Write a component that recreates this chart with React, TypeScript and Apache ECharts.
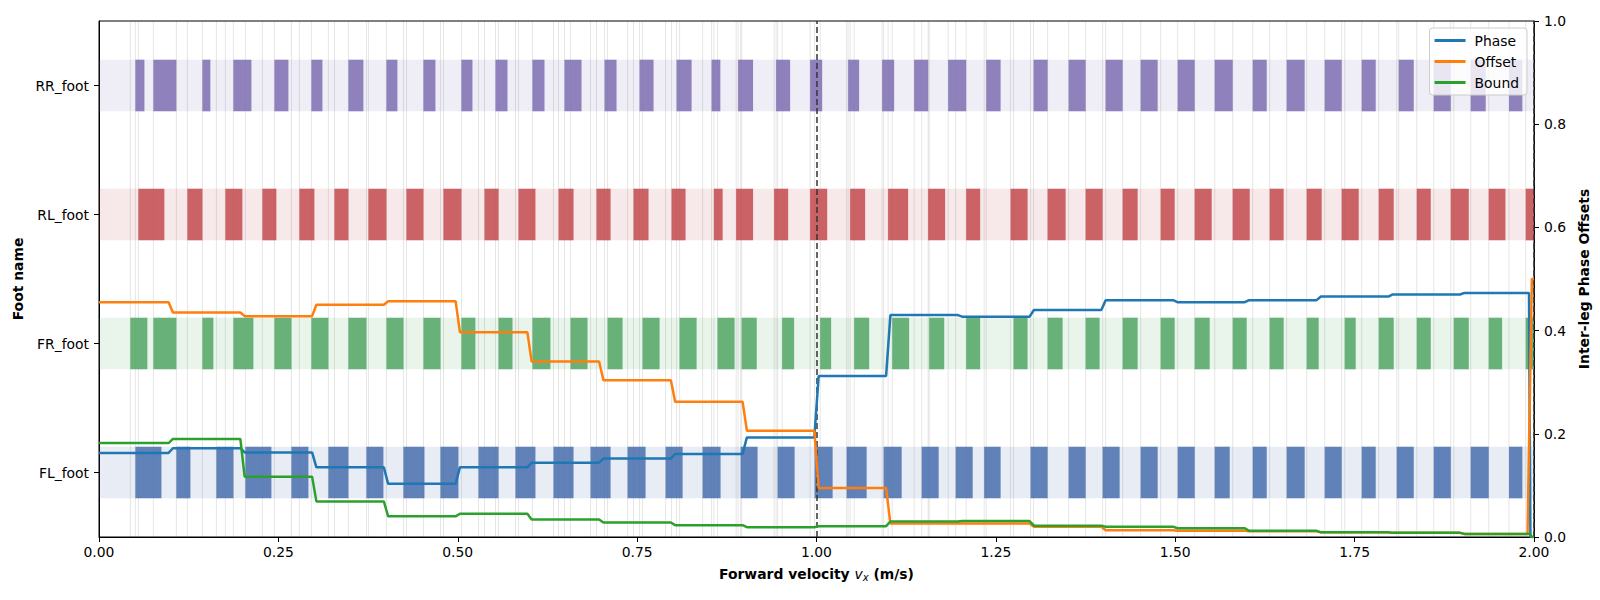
import React, { useEffect, useRef } from "react";
import * as echarts from "echarts";

// ---------- data ----------
const FEET = ["FL_foot", "FR_foot", "RL_foot", "RR_foot"];
const X_MIN = 0;
const X_MAX = 2;

// stance intervals [start, end] in forward-velocity units
const FL_STANCE: number[][] = [
  [0.0507, 0.087], [0.1078, 0.1274], [0.1636, 0.1873], [0.204, 0.2403], [0.2682, 0.2919],
  [0.3197, 0.3476], [0.3727, 0.3964], [0.4243, 0.4536], [0.4759, 0.501], [0.5289, 0.5568],
  [0.5805, 0.6083], [0.6335, 0.6614], [0.6851, 0.713], [0.7367, 0.7618], [0.7897, 0.8134],
  [0.8413, 0.8663], [0.8943, 0.9179], [0.9458, 0.9695], [0.9974, 1.0225], [1.042, 1.0699],
  [1.0936, 1.1187], [1.1466, 1.1703], [1.194, 1.2177], [1.2337, 1.2566], [1.2984, 1.3221],
  [1.3514, 1.3751], [1.3988, 1.4225], [1.4518, 1.4755], [1.5034, 1.5271], [1.555, 1.5759],
  [1.608, 1.6275], [1.6553, 1.6804], [1.7083, 1.732], [1.7599, 1.7794], [1.8087, 1.8324],
  [1.8603, 1.884], [1.9118, 1.9369], [1.9652, 1.9838],
];
const FR_STANCE: number[][] = [
  [0.0437, 0.0674], [0.0758, 0.1078], [0.1441, 0.1594], [0.1873, 0.2152], [0.2445, 0.2682],
  [0.296, 0.3197], [0.3476, 0.3727], [0.4006, 0.4243], [0.4522, 0.4759], [0.5051, 0.5246],
  [0.5568, 0.5763], [0.6041, 0.6292], [0.6572, 0.6809], [0.7088, 0.7297], [0.7576, 0.7813],
  [0.8092, 0.8329], [0.8621, 0.8858], [0.8957, 0.9167], [0.9521, 0.9688], [1.0051, 1.0204],
  [1.0525, 1.0734], [1.1055, 1.1291], [1.1571, 1.178], [1.2086, 1.2281], [1.2747, 1.2942],
  [1.3221, 1.343], [1.3751, 1.3946], [1.4267, 1.4476], [1.4797, 1.4992], [1.5271, 1.548],
  [1.5801, 1.5996], [1.6316, 1.6511], [1.6832, 1.6999], [1.7362, 1.7515], [1.7836, 1.8045],
  [1.8366, 1.8561], [1.8882, 1.9091], [1.9369, 1.9555], [1.9885, 2.0],
];
const RL_STANCE: number[][] = [
  [0.0549, 0.0911], [0.1232, 0.1441], [0.1761, 0.1998], [0.2277, 0.2472], [0.2793, 0.3002],
  [0.3281, 0.3476], [0.3755, 0.4006], [0.4285, 0.4522], [0.4801, 0.5051], [0.5373, 0.5568],
  [0.5847, 0.6083], [0.6405, 0.6614], [0.6934, 0.713], [0.745, 0.7659], [0.798, 0.8175],
  [0.857, 0.8692], [0.888, 0.9116], [0.9409, 0.9605], [0.9911, 1.0149], [1.0469, 1.0678],
  [1.0998, 1.1277], [1.1556, 1.1793], [1.2086, 1.2281], [1.2705, 1.2942], [1.3221, 1.3472],
  [1.3751, 1.3988], [1.4267, 1.4476], [1.4797, 1.4992], [1.5271, 1.5508], [1.5801, 1.6038],
  [1.6316, 1.6511], [1.6832, 1.7041], [1.732, 1.7557], [1.7836, 1.8045], [1.8366, 1.8561],
  [1.884, 1.9091], [1.9369, 1.9602], [1.9885, 2.0],
];
const RR_STANCE: number[][] = [
  [0.0507, 0.0633], [0.0758, 0.1078], [0.1441, 0.1552], [0.1873, 0.2124], [0.2445, 0.264],
  [0.296, 0.3114], [0.3476, 0.3685], [0.4006, 0.4159], [0.4522, 0.4689], [0.5051, 0.5205],
  [0.5526, 0.5693], [0.6041, 0.6209], [0.6488, 0.6725], [0.7046, 0.7213], [0.7534, 0.7729],
  [0.805, 0.8259], [0.8538, 0.866], [0.8907, 0.9116], [0.9437, 0.9632], [0.9911, 1.0079],
  [1.0441, 1.0594], [1.0915, 1.1082], [1.1361, 1.1557], [1.1835, 1.2086], [1.2365, 1.2566],
  [1.3026, 1.3221], [1.3514, 1.3751], [1.403, 1.4267], [1.4518, 1.4755], [1.5034, 1.5271],
  [1.555, 1.5801], [1.608, 1.6275], [1.6553, 1.6804], [1.7083, 1.732], [1.7599, 1.7794],
  [1.8115, 1.8324], [1.8603, 1.884], [1.9118, 1.9327], [1.9652, 1.9838],
];

// velocity bins (edges) and per-bin inter-leg offsets
const BIN_EDGES = [0, 0.1, 0.2, 0.3, 0.4, 0.5, 0.6, 0.7, 0.8, 0.9, 1.0, 1.1, 1.2, 1.3, 1.4, 1.5, 1.6, 1.7, 1.8, 1.9, 2.0];
const PHASE = [0.163, 0.172, 0.164, 0.135, 0.103, 0.135, 0.144, 0.152, 0.161, 0.193, 0.312, 0.43, 0.427, 0.44, 0.459, 0.455, 0.459, 0.466, 0.47, 0.473];
const OFFSET = [0.455, 0.435, 0.428, 0.45, 0.457, 0.397, 0.34, 0.304, 0.262, 0.206, 0.095, 0.026, 0.026, 0.02, 0.013, 0.012, 0.011, 0.009, 0.008, 0.006];
const BOUND = [0.182, 0.19, 0.117, 0.069, 0.04, 0.045, 0.034, 0.028, 0.023, 0.019, 0.021, 0.03, 0.031, 0.022, 0.02, 0.017, 0.012, 0.009, 0.008, 0.006];
// final samples at the end of the sweep
const PHASE_TAIL = [[1.993, 0.473], [1.995, 0], [2.0, 0]];
const OFFSET_TAIL = [[1.991, 0.006], [1.997, 0.5], [2.0, 0.5]];
const BOUND_TAIL = [[1.994, 0.006], [1.997, 0], [2.0, 0]];

const TRANSITIONS = [1.0, 1.997];

// ---------- styling ----------
const FONT = "DejaVu Sans";
const FS = 13.9;
const FOOT_COLORS: Record<string, string> = {
  FL_foot: "#4c72b0",
  FR_foot: "#55a868",
  RL_foot: "#c44e52",
  RR_foot: "#8172b3",
};
const LINE_COLORS = { Phase: "#1f77b4", Offset: "#ff7f0e", Bound: "#2ca02c" };
const RAMP = 0.003;

function buildSteps(levels: number[], tail: number[][]) {
  const pts: number[][] = [];
  levels.forEach((v, k) => {
    const a = BIN_EDGES[k];
    const b = BIN_EDGES[k + 1];
    pts.push([k === 0 ? a : a + RAMP, v]);
    if (k < levels.length - 1) pts.push([b - RAMP, v]);
  });
  return pts.concat(tail);
}

export default function App() {
  const ref = useRef<HTMLDivElement>(null);

  useEffect(() => {
    if (!ref.current) return;
    const chart = echarts.init(ref.current, undefined, { renderer: "svg" });

    const stanceSets = [FL_STANCE, FR_STANCE, RL_STANCE, RR_STANCE];
    const stanceData: number[][] = [];
    stanceSets.forEach((set, i) => set.forEach(([s, e]) => stanceData.push([s, e, i])));
    const bandData = FEET.map((_, i) => [X_MIN, X_MAX, i]);
    const touchdowns = Array.from(new Set(stanceData.map((d) => d[0]))).sort((a, b) => a - b);

    const rectRender = (alpha: number) => (params: any, api: any) => {
      const idx = api.value(2);
      const s = api.coord([api.value(0), idx]);
      const e = api.coord([api.value(1), idx]);
      const h = api.size([0, 1])[1] * 0.4;
      return {
        type: "rect",
        shape: { x: s[0], y: s[1] - h / 2, width: e[0] - s[0], height: h },
        style: { fill: FOOT_COLORS[FEET[idx]], opacity: alpha },
      };
    };

    const axisLineStyle = { show: true, lineStyle: { color: "#000", width: 1 } };
    const tickStyle = { show: true, length: 5, lineStyle: { color: "#000", width: 1 } };
    const labelStyle = { color: "#000", fontSize: FS, fontFamily: FONT };
    const titleStyle = { color: "#000", fontSize: FS, fontFamily: FONT, fontWeight: "bold" as const };

    const lineSeries = (name: "Phase" | "Offset" | "Bound", data: number[][], extra: any = {}) => ({
      name,
      type: "line",
      xAxisIndex: 0,
      yAxisIndex: 1,
      data,
      showSymbol: false,
      symbol: "none",
      color: LINE_COLORS[name],
      lineStyle: { color: LINE_COLORS[name], width: 2.5 },
      z: 5,
      ...extra,
    });

    chart.setOption({
      animation: false,
      backgroundColor: "#fff",
      grid: {
        left: 99,
        right: 66,
        top: 21,
        bottom: 63,
        show: true,
        borderColor: "#000",
        borderWidth: 1,
        backgroundColor: "transparent",
      },
      legend: {
        data: ["Phase", "Offset", "Bound"],
        orient: "vertical",
        right: 73,
        top: 28,
        icon: "rect",
        itemWidth: 31,
        itemHeight: 3,
        itemGap: 6,
        padding: [5, 8, 5, 5],
        backgroundColor: "rgba(255,255,255,0.8)",
        borderColor: "#cccccc",
        borderWidth: 1,
        borderRadius: 3,
        z: 10,
        textStyle: { color: "#000", fontSize: FS, fontFamily: FONT, lineHeight: 15, padding: [0, 0, 0, 4] },
      },
      xAxis: {
        type: "value",
        min: X_MIN,
        max: X_MAX,
        interval: 0.25,
        name: "{b|Forward velocity }{i|v}{s|x}{b| (m/s)}",
        nameLocation: "middle",
        nameGap: 29,
        nameTextStyle: {
          rich: {
            b: { ...titleStyle },
            i: { color: "#000", fontSize: FS, fontFamily: FONT, fontStyle: "italic" },
            s: { color: "#000", fontSize: 10, fontFamily: FONT, fontStyle: "italic", padding: [6, 0, 0, 0] },
          },
        },
        axisLine: axisLineStyle,
        axisTick: tickStyle,
        axisLabel: { ...labelStyle, margin: 8, formatter: (v: number) => v.toFixed(2) },
        splitLine: { show: false },
      },
      yAxis: [
        {
          type: "category",
          data: FEET,
          position: "left",
          name: "Foot name",
          nameLocation: "middle",
          nameRotate: 90,
          nameGap: 69,
          nameTextStyle: titleStyle,
          axisLine: axisLineStyle,
          axisTick: { ...tickStyle, alignWithLabel: true },
          axisLabel: { ...labelStyle, margin: 10 },
          splitLine: { show: false },
        },
        {
          type: "value",
          position: "right",
          min: 0,
          max: 1,
          interval: 0.2,
          name: "Inter-leg Phase Offsets",
          nameLocation: "middle",
          nameRotate: 90,
          nameGap: 33,
          nameTextStyle: titleStyle,
          axisLine: axisLineStyle,
          axisTick: tickStyle,
          axisLabel: { ...labelStyle, margin: 10, formatter: (v: number) => v.toFixed(1) },
          splitLine: { show: false },
        },
      ],
      series: [
        {
          type: "custom",
          name: "bands",
          xAxisIndex: 0,
          yAxisIndex: 0,
          data: bandData,
          encode: { x: [0, 1], y: 2 },
          renderItem: rectRender(0.13),
          silent: true,
          z: 1,
        },
        {
          type: "custom",
          name: "touchdowns",
          xAxisIndex: 0,
          yAxisIndex: 0,
          data: touchdowns.map((t) => [t, 0]),
          encode: { x: 0, y: 1 },
          renderItem: (params: any, api: any) => {
            const cs = params.coordSys;
            const x = api.coord([api.value(0), 0])[0];
            return {
              type: "line",
              shape: { x1: x, y1: cs.y, x2: x, y2: cs.y + cs.height },
              style: { stroke: "#000", opacity: 0.1, lineWidth: 1 },
            };
          },
          silent: true,
          z: 2,
        },
        {
          type: "custom",
          name: "stance",
          xAxisIndex: 0,
          yAxisIndex: 0,
          data: stanceData,
          encode: { x: [0, 1], y: 2 },
          renderItem: rectRender(0.87),
          silent: true,
          z: 3,
        },
        lineSeries("Phase", buildSteps(PHASE, PHASE_TAIL), {
          markLine: {
            symbol: "none",
            silent: true,
            label: { show: false },
            lineStyle: { type: [6, 3], color: "#333", width: 1.5 },
            data: TRANSITIONS.map((x) => ({ xAxis: x })),
          },
        }),
        lineSeries("Offset", buildSteps(OFFSET, OFFSET_TAIL)),
        lineSeries("Bound", buildSteps(BOUND, BOUND_TAIL)),
      ],
    });

    return () => chart.dispose();
  }, []);

  return (
    <div
      ref={ref}
      style={{ position: "absolute", left: 0, top: 0, width: 1600, height: 600, background: "#fff" }}
    />
  );
}
